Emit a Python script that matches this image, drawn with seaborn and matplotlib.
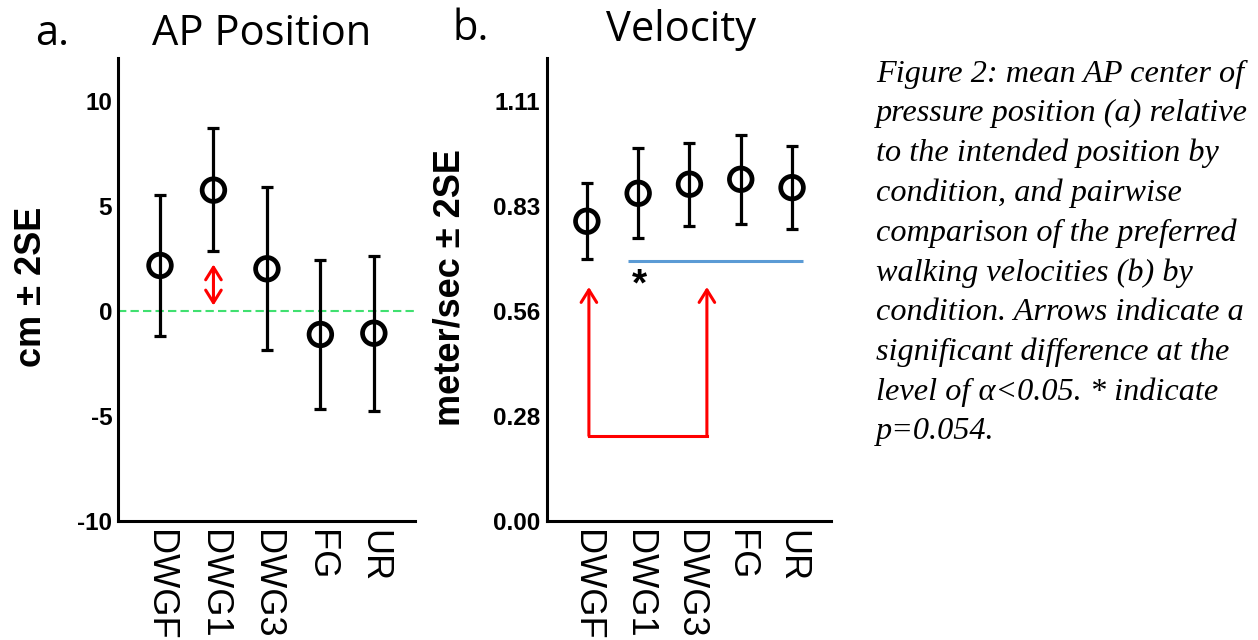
import numpy as np
import matplotlib
matplotlib.use("Agg")
import matplotlib.pyplot as plt
import seaborn as sns

# Data
conditions = ["DWGF", "DWG1", "DWG3", "FG", "UR"]

ap_mean = np.array([2.18, 5.77, 2.02, -1.11, -1.05])
ap_low = np.array([-1.18, 2.87, -1.85, -4.67, -4.74])
ap_high = np.array([5.56, 8.73, 5.93, 2.42, 2.63])
ap_ticks = [-10, -5, 0, 5, 10]

vel_mean = np.array([0.793, 0.867, 0.891, 0.904, 0.882])
vel_low = np.array([0.694, 0.749, 0.781, 0.787, 0.773])
vel_high = np.array([0.893, 0.986, 1.001, 1.020, 0.992])
vel_ticks = np.linspace(0, 1.11, 5)

caption = ("Figure 2: mean AP center of\n"
           "pressure position (a) relative\n"
           "to the intended position by\n"
           "condition, and pairwise\n"
           "comparison of the preferred\n"
           "walking velocities (b) by\n"
           "condition. Arrows indicate a\n"
           "significant difference at the\n"
           "level of \u03b1<0.05. * indicate\n"
           "p=0.054.")

sns.set_theme(style="white")
plt.rcParams["font.family"] = ["Liberation Sans", "DejaVu Sans"]
plt.rcParams["axes.unicode_minus"] = False
for key in ["text.color", "axes.labelcolor", "xtick.color", "ytick.color"]:
    plt.rcParams[key] = "black"

fig = plt.figure(figsize=(12.58, 6.4), dpi=100)
ax_a = fig.add_axes([0.0936, 0.186, 0.2363, 0.7234])
ax_b = fig.add_axes([0.4351, 0.186, 0.2255, 0.7234])


def draw_panel(ax, mean, low, high):
    ax.errorbar(conditions, mean, yerr=[mean - low, high - mean], fmt="none",
                ecolor="black", elinewidth=2.3, capsize=4.3, capthick=2.3, zorder=2)
    sns.scatterplot(x=conditions, y=mean, ax=ax, marker="o", s=16.3 ** 2,
                    facecolor="none", edgecolor="black", linewidth=3.4, zorder=3)
    sns.despine(ax=ax)
    for side in ["left", "bottom"]:
        ax.spines[side].set_color("black")
        ax.spines[side].set_linewidth(2.2)
    ax.tick_params(axis="both", length=0)
    ax.tick_params(axis="x", pad=6.5)
    for lab in ax.get_xticklabels():
        lab.set_rotation(270)
        lab.set_fontsize(26)
        lab.set_ha("center")
        lab.set_va("top")
    ax.grid(False)


# a. AP position
draw_panel(ax_a, ap_mean, ap_low, ap_high)
ax_a.set_xlim(-0.79, 4.77)
ax_a.set_ylim(-10, 12.07)
ax_a.set_yticks(ap_ticks)
ax_a.set_yticklabels([str(t) for t in ap_ticks], fontsize=17.5, fontweight="bold")
ax_a.tick_params(axis="y", pad=4)
ax_a.axhline(0, color="#40e070", lw=1.5, ls=(0, (4, 2)), zorder=1)
ax_a.annotate("", xy=(1, 0.27), xytext=(1, 2.23),
              arrowprops=dict(arrowstyle="<->,head_length=0.45,head_width=0.28",
                              color="red", lw=2.2, mutation_scale=20,
                              shrinkA=0, shrinkB=0))
ax_a.set_ylabel("cm \u00b1 2SE", fontsize=26, fontweight="bold")
ax_a.yaxis.set_label_coords(-0.231, 0.505)

# b. Velocity
draw_panel(ax_b, vel_mean, vel_low, vel_high)
ax_b.set_xlim(-0.77, 4.76)
ax_b.set_ylim(0, 1.225)
ax_b.set_yticks(vel_ticks)
ax_b.set_yticklabels([f"{t:.2f}" for t in vel_ticks], fontsize=17.5, fontweight="bold")
ax_b.tick_params(axis="y", pad=5)
ax_b.plot([0.81, 4.21], [0.687, 0.687], color="#5b9bd5", lw=2.2,
          solid_capstyle="butt")
ax_b.text(1.02, 0.622, "*", ha="center", va="center", fontsize=28, fontweight="bold")
ax_b.plot([0.04, 2.34], [0.2255, 0.2255], color="red", lw=2.2,
          solid_capstyle="projecting")
for xb in [0.04, 2.34]:
    ax_b.annotate("", xy=(xb, 0.619), xytext=(xb, 0.2255),
                  arrowprops=dict(arrowstyle="->,head_length=0.45,head_width=0.28",
                                  color="red", lw=2.2, mutation_scale=20,
                                  shrinkA=0, shrinkB=0))
ax_b.set_ylabel("meter/sec \u00b1 2SE", fontsize=26, fontweight="bold")
ax_b.yaxis.set_label_coords(-0.281, 0.505)

# titles and panel letters
title_font = dict(family="Open Sans", fontsize=30, va="baseline")
fig.text(262 / 1258, 1 - 45 / 640, "AP Position", ha="center", **title_font)
fig.text(681 / 1258, 1 - 41 / 640, "Velocity", ha="center", **title_font)
fig.text(35 / 1258, 1 - 45 / 640, "a.", ha="left", **title_font)
fig.text(452 / 1258, 1 - 40 / 640, "b.", ha="left", **title_font)

# caption
fig.text(876 / 1258, 1 - 60 / 640, caption, ha="left", va="top",
         family="Liberation Serif", style="italic", fontsize=23.2, linespacing=1.46)

fig.savefig("out.png", dpi=100)
